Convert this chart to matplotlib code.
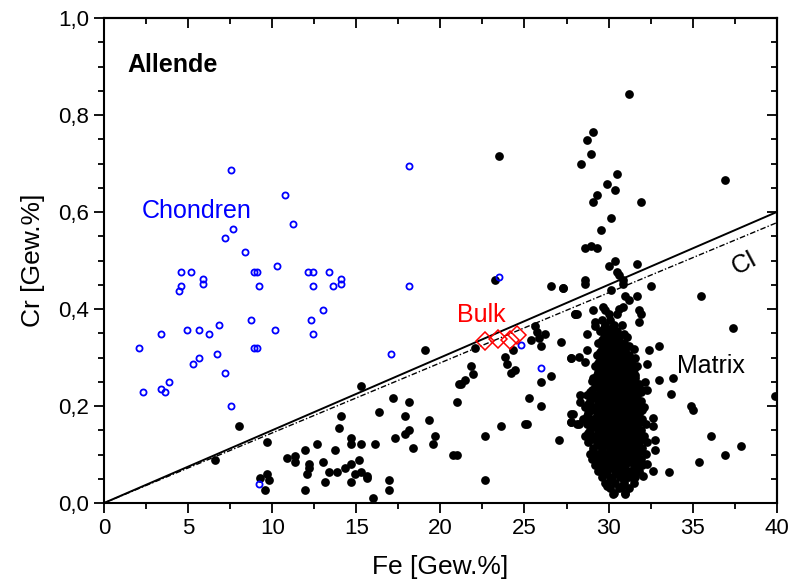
import matplotlib
matplotlib.use("Agg")
import matplotlib.pyplot as plt
from matplotlib.ticker import MultipleLocator, FuncFormatter

plt.rcParams['font.family'] = ['Liberation Sans', 'DejaVu Sans']

# Chondren (open blue circles)
chon_fe = [7.55, 10.76, 11.23, 7.67, 7.19, 8.36, 10.28, 4.56, 5.15, 8.9, 9.1,
           5.88, 5.88, 4.58, 4.46, 9.21, 8.74, 6.84, 4.93, 5.65, 6.24, 10.16,
           3.37, 2.08, 8.9, 9.1, 6.70, 5.65, 5.29, 7.19, 3.86, 3.37, 3.63, 2.32,
           7.55, 9.21, 18.13, 12.1, 12.4, 13.37, 14.09, 14.09, 12.42, 13.61,
           18.13, 13.02, 12.30, 12.42, 17.06, 23.48, 24.78, 25.97]
chon_cr = [0.686, 0.636, 0.575, 0.566, 0.546, 0.517, 0.488, 0.476, 0.476, 0.476, 0.476,
           0.461, 0.452, 0.447, 0.438, 0.447, 0.377, 0.368, 0.356, 0.356, 0.348, 0.356,
           0.348, 0.319, 0.319, 0.319, 0.307, 0.298, 0.286, 0.269, 0.249, 0.236, 0.228, 0.228,
           0.199, 0.039, 0.694, 0.476, 0.476, 0.476, 0.461, 0.452, 0.447, 0.447,
           0.447, 0.397, 0.377, 0.348, 0.307, 0.467, 0.326, 0.278]

# Bulk (red diamonds)
bulk_fe = [22.68, 23.40, 24.13, 24.53]
bulk_cr = [0.335, 0.339, 0.337, 0.346]

# Matrix, scattered points
matrix_fe = [19.08, 15.27, 17.18, 18.13, 14.09, 16.34, 17.89, 19.32, 13.97, 14.68,
             14.68, 15.27, 16.11, 17.30, 18.13, 17.89, 18.37, 19.67, 19.55, 12.66,
             11.95, 13.73, 13.02, 12.18, 12.18, 12.07, 13.37, 13.85, 14.32, 14.68,
             15.16, 14.92, 15.27, 15.63, 15.63, 13.13, 14.68, 16.94, 16.94, 15.99,
             11.95, 20.74, 20.98, 20.98, 21.10, 8.02, 9.69, 6.60, 10.88, 11.35,
             11.35, 9.69, 9.27, 9.81, 9.57, 23.48, 23.24, 26.57, 27.28, 22.05,
             25.62, 25.74, 26.21, 25.85, 25.38, 25.97, 27.16, 27.99, 27.76, 24.31,
             23.83, 23.95, 24.19, 24.43, 21.81, 21.93, 21.22, 21.46, 26.57, 25.97,
             25.26, 25.97, 23.60, 22.64, 25.02, 25.14, 27.04, 27.87, 27.76, 28.11,
             22.64, 28.29, 28.29,
             31.22, 29.08, 28.73, 28.96, 28.37, 30.51, 29.92, 30.39, 29.32, 29.08,
             31.93, 36.93, 30.15, 29.56, 28.61, 28.96, 29.32, 30.03, 30.39, 31.70,
             30.51, 30.63, 28.61, 28.61, 27.30, 30.87, 30.87, 30.15, 32.53, 35.50,
             30.98, 31.22, 30.87, 30.63, 31.70, 29.68, 29.80, 29.08, 28.00, 28.10,
             31.82, 31.93, 31.82, 29.20, 29.20, 37.40, 28.73, 33.00, 27.77, 28.25,
             28.61, 32.41, 32.29, 28.73, 33.00, 33.84, 33.72, 32.17, 32.29, 39.90,
             34.91, 35.03, 27.77, 27.77, 28.25, 36.10, 37.88, 36.93, 35.38, 33.60,
             32.77, 32.77, 32.65, 32.65, 32.65, 32.29, 32.05, 31.58, 30.27, 30.98]
matrix_cr = [0.315, 0.241, 0.216, 0.208, 0.179, 0.187, 0.179, 0.171, 0.154, 0.133,
             0.121, 0.121, 0.121, 0.133, 0.150, 0.142, 0.113, 0.138, 0.121, 0.121,
             0.109, 0.109, 0.084, 0.080, 0.072, 0.059, 0.063, 0.063, 0.072, 0.080,
             0.088, 0.059, 0.063, 0.055, 0.051, 0.043, 0.043, 0.047, 0.026, 0.010,
             0.026, 0.100, 0.100, 0.208, 0.245, 0.158, 0.125, 0.088, 0.092, 0.096,
             0.084, 0.059, 0.051, 0.047, 0.026, 0.715, 0.459, 0.447, 0.443, 0.319,
             0.364, 0.352, 0.348, 0.340, 0.336, 0.323, 0.331, 0.389, 0.298, 0.315,
             0.302, 0.286, 0.269, 0.274, 0.282, 0.265, 0.245, 0.253, 0.261, 0.249,
             0.216, 0.199, 0.158, 0.138, 0.162, 0.162, 0.129, 0.183, 0.166, 0.162,
             0.047, 0.223, 0.208,
             0.843, 0.764, 0.748, 0.719, 0.698, 0.678, 0.657, 0.645, 0.636, 0.620,
             0.620, 0.665, 0.587, 0.562, 0.525, 0.529, 0.525, 0.488, 0.500, 0.492,
             0.476, 0.471, 0.459, 0.451, 0.443, 0.459, 0.451, 0.439, 0.447, 0.426,
             0.426, 0.418, 0.405, 0.401, 0.426, 0.405, 0.397, 0.397, 0.389, 0.389,
             0.397, 0.389, 0.373, 0.373, 0.365, 0.360, 0.348, 0.323, 0.298, 0.302,
             0.290, 0.315, 0.286, 0.315, 0.253, 0.257, 0.224, 0.249, 0.232, 0.220,
             0.199, 0.191, 0.183, 0.166, 0.162, 0.138, 0.117, 0.100, 0.084, 0.063,
             0.129, 0.109, 0.175, 0.158, 0.067, 0.080, 0.055, 0.059, 0.018, 0.018]

# Matrix, dense cluster near Fe ~30 (Cr, list of Fe)
cluster_rows = [
    (0.020, [30.3, 31.0]),
    (0.030, [30.1, 30.6, 31.2]),
    (0.036, [29.9, 30.8]),
    (0.042, [29.8, 30.4, 30.9, 31.5]),
    (0.048, [30.2, 30.9]),
    (0.054, [29.6, 30.1, 30.7, 31.2, 31.6]),
    (0.060, [29.7, 30.5, 31.0]),
    (0.066, [29.4, 29.9, 30.4, 30.8, 31.3, 31.8]),
    (0.072, [29.5, 30.0, 30.9, 31.6]),
    (0.078, [29.2, 29.7, 30.2, 30.6, 31.0, 31.5, 32.0]),
    (0.084, [29.4, 29.9, 30.4, 30.8, 31.2, 31.7]),
    (0.090, [29.0, 29.5, 30.0, 30.5, 30.9, 31.4, 31.9]),
    (0.096, [29.2, 29.7, 30.2, 30.6, 31.1, 31.5]),
    (0.102, [28.9, 29.4, 29.9, 30.3, 30.8, 31.2, 31.7, 32.2]),
    (0.108, [29.1, 29.6, 30.1, 30.5, 31.0, 31.4, 31.9]),
    (0.114, [29.1, 29.6, 30.1, 30.6, 31.0, 31.5, 32.0]),
    (0.120, [29.4, 29.9, 30.3, 30.8, 31.2, 31.7]),
    (0.126, [28.8, 29.3, 29.8, 30.4, 30.8, 31.3, 31.8, 32.3]),
    (0.132, [29.0, 29.5, 30.0, 30.5, 31.0, 31.5, 32.0]),
    (0.138, [28.6, 29.2, 29.7, 30.2, 30.7, 31.1, 31.6, 32.1]),
    (0.144, [28.8, 29.4, 29.9, 30.4, 30.8, 31.3, 31.8]),
    (0.150, [28.9, 29.5, 30.0, 30.5, 30.9, 31.4, 31.9]),
    (0.156, [29.1, 29.6, 30.1, 30.6, 31.1, 31.6]),
    (0.162, [28.7, 29.3, 29.8, 30.3, 30.8, 31.2, 31.7, 32.2]),
    (0.168, [28.9, 29.4, 29.9, 30.5, 31.0, 31.4, 31.9]),
    (0.174, [28.5, 29.1, 29.6, 30.1, 30.6, 31.0, 31.5, 32.0]),
    (0.180, [28.7, 29.3, 29.8, 30.3, 30.8, 31.2, 31.7]),
    (0.186, [28.8, 29.4, 29.9, 30.4, 30.9, 31.3, 31.8]),
    (0.192, [29.0, 29.6, 30.1, 30.5, 31.0, 31.5, 32.0]),
    (0.198, [28.6, 29.2, 29.7, 30.2, 30.7, 31.1, 31.6, 32.1]),
    (0.204, [28.8, 29.4, 29.9, 30.4, 30.9, 31.3, 31.7]),
    (0.210, [28.9, 29.5, 30.0, 30.5, 31.0, 31.4, 31.9]),
    (0.216, [29.1, 29.7, 30.2, 30.7, 31.1, 31.6]),
    (0.222, [28.7, 29.3, 29.8, 30.3, 30.8, 31.2, 31.7]),
    (0.228, [28.9, 29.5, 30.0, 30.5, 30.9, 31.4, 31.9]),
    (0.234, [29.0, 29.6, 30.1, 30.6, 31.0, 31.5, 32.0]),
    (0.240, [29.2, 29.7, 30.2, 30.7, 31.1, 31.6]),
    (0.246, [29.3, 29.8, 30.3, 30.8, 31.3, 31.8]),
    (0.252, [29.0, 29.5, 30.0, 30.5, 30.9, 31.4]),
    (0.258, [29.1, 29.6, 30.1, 30.6, 31.1, 31.6]),
    (0.264, [29.3, 29.8, 30.3, 30.7, 31.2, 31.6]),
    (0.270, [29.4, 29.9, 30.4, 30.9, 31.4]),
    (0.276, [29.5, 30.0, 30.5, 31.0, 31.5]),
    (0.282, [29.2, 29.7, 30.2, 30.7, 31.2, 31.7]),
    (0.288, [29.4, 29.9, 30.4, 30.9, 31.3]),
    (0.294, [29.5, 30.0, 30.5, 30.9, 31.4]),
    (0.300, [29.6, 30.1, 30.6, 31.0, 31.6]),
    (0.306, [29.3, 29.8, 30.3, 30.8, 31.2]),
    (0.312, [29.5, 30.0, 30.5, 31.0]),
    (0.318, [29.6, 30.1, 30.6, 31.0, 31.5]),
    (0.324, [29.8, 30.3, 30.8, 31.2]),
    (0.330, [29.4, 29.9, 30.4, 30.9]),
    (0.336, [29.6, 30.1, 30.5]),
    (0.342, [29.7, 30.2, 30.6, 31.1]),
    (0.348, [29.9, 30.4, 30.9]),
    (0.354, [29.5, 30.0, 30.5]),
    (0.360, [29.7, 30.2]),
    (0.366, [29.8, 30.3, 30.8]),
    (0.378, [29.6, 30.1]),
    (0.390, [30.0, 30.5]),
]

# CI reference lines
ci_fe = [0, 40]
ci_cr_solid = [0, 0.600]
ci_cr_dotted = [0, 0.578]

for cr, fes in cluster_rows:
    matrix_fe += fes
    matrix_cr += [cr] * len(fes)

fig = plt.figure(figsize=(7.91, 5.87), dpi=100)
ax = fig.add_axes([0.1315, 0.1431, 0.8505, 0.8262])

ax.plot(ci_fe, ci_cr_solid, color='black', lw=1.4, zorder=2)
ax.plot(ci_fe, ci_cr_dotted, color='black', lw=1.0, ls=(0, (4, 1.5, 1, 1.5)), zorder=2)

ax.plot(matrix_fe, matrix_cr, 'o', color='black', ms=6.3, mew=0, zorder=3)
ax.plot(chon_fe, chon_cr, 'o', mfc='none', mec='#0000ff', ms=4.4, mew=1.3, zorder=4)
ax.plot(bulk_fe, bulk_cr, 'D', mfc='none', mec='#ff0000', ms=8.7, mew=1.1, zorder=5)

ax.text(1.37, 0.889, 'Allende', fontsize=18, fontweight='bold')
ax.text(2.26, 0.588, 'Chondren', fontsize=18, color='#0000ff')
ax.text(20.98, 0.374, 'Bulk', fontsize=18, color='#ff0000')
ax.text(34.07, 0.269, 'Matrix', fontsize=18, color='black')
ax.text(38.1, 0.495, 'CI', fontsize=18, color='black', rotation=28,
        ha='center', va='center')

ax.set_xlim(0, 40)
ax.set_ylim(0, 1.0)
ax.xaxis.set_major_locator(MultipleLocator(5))
ax.xaxis.set_minor_locator(MultipleLocator(2.5))
ax.yaxis.set_major_locator(MultipleLocator(0.2))
ax.yaxis.set_minor_locator(MultipleLocator(0.05))
ax.yaxis.set_major_formatter(FuncFormatter(lambda v, p: f'{v:.1f}'.replace('.', ',')))
ax.tick_params(which='both', direction='out', width=1.3, labelsize=16)
ax.tick_params(which='major', length=7)
ax.tick_params(which='minor', length=4)

# mirrored ticks on top and right, pointing inwards
top = ax.secondary_xaxis('top')
top.xaxis.set_major_locator(MultipleLocator(5))
top.xaxis.set_minor_locator(MultipleLocator(2.5))
top.tick_params(which='both', direction='in', width=1.3, labeltop=False)
top.tick_params(which='major', length=7)
top.tick_params(which='minor', length=4)
right = ax.secondary_yaxis('right')
right.yaxis.set_major_locator(MultipleLocator(0.2))
right.yaxis.set_minor_locator(MultipleLocator(0.05))
right.tick_params(which='both', direction='in', width=1.3, labelright=False)
right.tick_params(which='major', length=7)
right.tick_params(which='minor', length=4)

for sp in list(ax.spines.values()) + [top.spines['top'], right.spines['right']]:
    sp.set_linewidth(1.5)

ax.set_xlabel('Fe [Gew.%]', fontsize=19, labelpad=12)
ax.set_ylabel('Cr [Gew.%]', fontsize=19, labelpad=10)

fig.savefig('out.png', dpi=100)
